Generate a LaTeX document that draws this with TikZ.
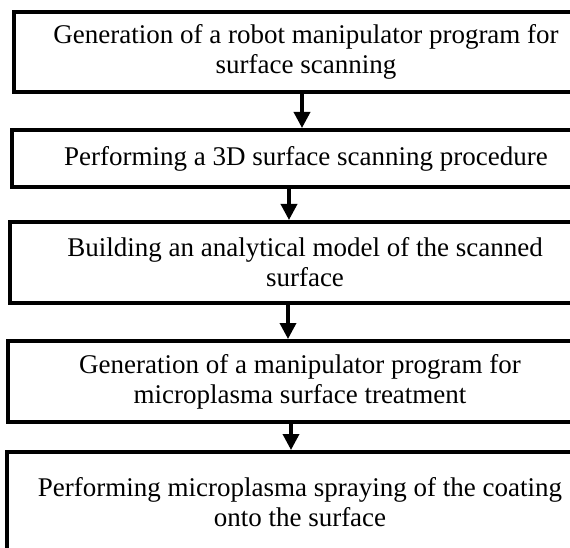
\documentclass[tikz,border=0pt]{standalone}
\usepackage{fontspec}
\setmainfont{Liberation Serif}
\usetikzlibrary{arrows.meta}

\tikzset{
	procbox/.style={draw, line width=4pt, anchor=north west, align=center, inner sep=0pt,
		font=\fontsize{27}{30}\selectfont},
	flow/.style={line width=3.5pt, -{Triangle[length=16pt,width=16pt]}}
}

\begin{document}
\begin{tikzpicture}[x=1pt, y=-1pt]

		\useasboundingbox (0, 0) rectangle (570, 548);
		\clip (0, 0) rectangle (570, 548);

		% the five steps
		\node[procbox, minimum width=584pt, minimum height=80pt] (progscan) at (12, 10)
			{Generation of a robot manipulator program for\\surface scanning};
		\node[procbox, minimum width=588pt, minimum height=57pt] (scan) at (10, 128)
			{Performing a 3D surface scanning procedure};
		\node[procbox, minimum width=590pt, minimum height=81pt] (model) at (8, 220)
			{Building an analytical model of the scanned\\surface};
		\node[procbox, minimum width=584pt, minimum height=81pt] (progplasma) at (6, 339)
			{Generation of a manipulator program for\\microplasma surface treatment};
		\node[procbox, minimum width=586pt, minimum height=100pt] (spray) at (5, 450)
			{Performing microplasma spraying of the coating\\onto the surface};

		% arrows
		\coordinate (a1) at (302, 0);
		\coordinate (a2) at (289, 0);
		\coordinate (a3) at (288, 0);
		\coordinate (a4) at (291, 0);
		\draw[flow] (progscan.south -| a1) -- (scan.north -| a1);
		\draw[flow] (scan.south -| a2) -- (model.north -| a2);
		\draw[flow] (model.south -| a3) -- (progplasma.north -| a3);
		\draw[flow] (progplasma.south -| a4) -- (spray.north -| a4);

	\end{tikzpicture}
\end{document}
